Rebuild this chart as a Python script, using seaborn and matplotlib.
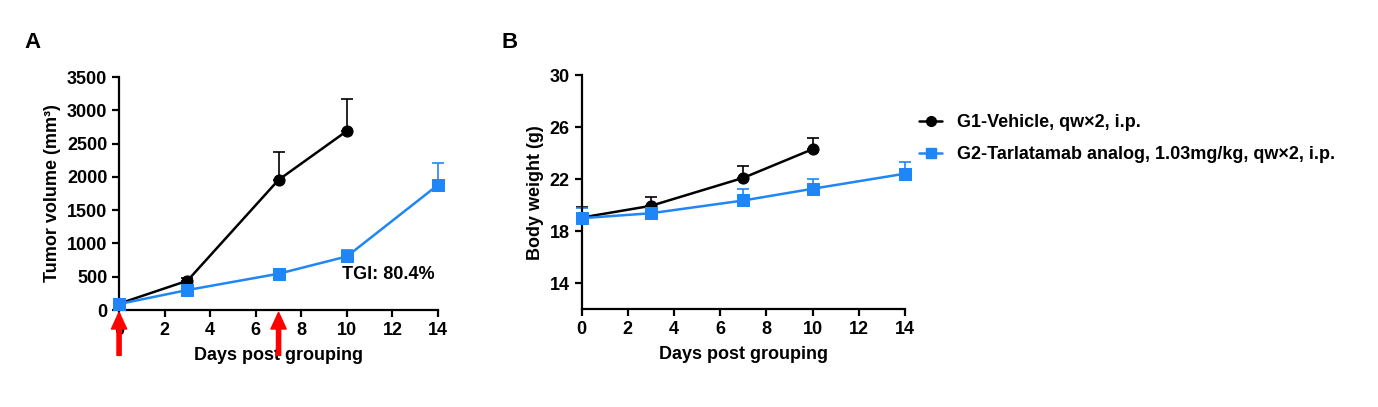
import pandas as pd
import matplotlib
matplotlib.use('Agg')
from matplotlib import pyplot as plt
from matplotlib.lines import Line2D
import seaborn as sns

# datos
days_g1 = [0, 3, 7, 10]
days_g2 = [0, 3, 7, 10, 14]

tv_g1 = [95, 440, 1955, 2690]
tv_g1_err = [10, 40, 425, 475]
tv_g2 = [90, 300, 545, 805, 1880]
tv_g2_err = [10, 25, 30, 100, 325]

bw_g1 = [19.05, 19.95, 22.1, 24.3]
bw_g1_err = [0.8, 0.65, 0.9, 0.85]
bw_g2 = [19.0, 19.38, 20.36, 21.26, 22.42]
bw_g2_err = [0.8, 0.2, 0.9, 0.75, 0.9]

labels = ['G1-Vehicle, qw\u00d72, i.p.',
          'G2-Tarlatamab analog, 1.03mg/kg, qw\u00d72, i.p.']
colors = ['black', '#1f86f7']
markers = ['o', 's']
dose_days = [0, 7]

sns.set_style('ticks')
plt.rcParams['font.family'] = ['Liberation Sans', 'DejaVu Sans']
plt.rcParams['font.weight'] = 'bold'
plt.rcParams['axes.labelweight'] = 'bold'
for k in ['text.color', 'axes.labelcolor', 'xtick.color', 'ytick.color', 'axes.edgecolor']:
    plt.rcParams[k] = 'black'

fig = plt.figure(figsize=(13.78, 4.07), dpi=100)
ax_a = fig.add_axes([0.0864, 0.2383, 0.2315, 0.5725])
ax_b = fig.add_axes([0.4221, 0.2400, 0.2346, 0.5757])


def draw_panel(ax, xs_list, ys_list, errs_list):
    for xs, ys, errs, c, m, lab in zip(xs_list, ys_list, errs_list, colors, markers, labels):
        df = pd.DataFrame({'x': xs, 'y': ys})
        eb = ax.errorbar(xs, ys, yerr=[[0] * len(errs), errs], fmt='none',
                         ecolor=c, elinewidth=1.2, capsize=4, capthick=1.2, zorder=2)
        for art in eb.lines[1] + eb.lines[2]:
            art.set_clip_on(False)
        sns.lineplot(data=df, x='x', y='y', ax=ax, color=c, marker=m,
                     markersize=8, markeredgecolor=c, linewidth=1.8,
                     label=lab, legend=False, zorder=3, clip_on=False)
    sns.despine(ax=ax)
    for s in ['left', 'bottom']:
        ax.spines[s].set_linewidth(1.6)
    ax.tick_params(width=1.6, length=5, labelsize=13)
    ax.set_xlim(0, 14)
    ax.set_xticks(range(0, 15, 2))
    ax.set_xlabel('Days post grouping', fontsize=13, labelpad=6)


draw_panel(ax_a, [days_g1, days_g2], [tv_g1, tv_g2], [tv_g1_err, tv_g2_err])
ax_a.set_ylim(0, 3500)
ax_a.set_yticks(range(0, 3501, 500))
ax_a.set_ylabel('Tumor volume (mm\u00b3)', fontsize=13)
ax_a.text(9.8, 530, 'TGI: 80.4%', fontsize=13, fontweight='bold', va='center')
for d in dose_days:
    ax_a.annotate('', xy=(d, -0.01), xycoords=('data', 'axes fraction'),
                  xytext=(d, -0.195), textcoords=('data', 'axes fraction'),
                  arrowprops=dict(color='red', width=3, headwidth=11, headlength=12),
                  annotation_clip=False)

draw_panel(ax_b, [days_g1, days_g2], [bw_g1, bw_g2], [bw_g1_err, bw_g2_err])
ax_b.set_ylim(12, 30)
ax_b.set_yticks([14, 18, 22, 26, 30])
ax_b.set_ylabel('Body weight (g)', fontsize=13)

fig.text(0.018, 0.895, 'A', fontsize=16, fontweight='bold', va='center')
fig.text(0.364, 0.895, 'B', fontsize=16, fontweight='bold', va='center')

handles = [Line2D([], [], color=c, marker=m, markersize=7, linewidth=1.8)
           for c, m in zip(colors, markers)]
fig.legend(handles, labels, loc='upper left', bbox_to_anchor=(0.655, 0.76),
           frameon=False, fontsize=13, handlelength=1.3, handletextpad=0.8,
           labelspacing=0.85)

fig.savefig('out.png', dpi=100)
plt.close(fig)
